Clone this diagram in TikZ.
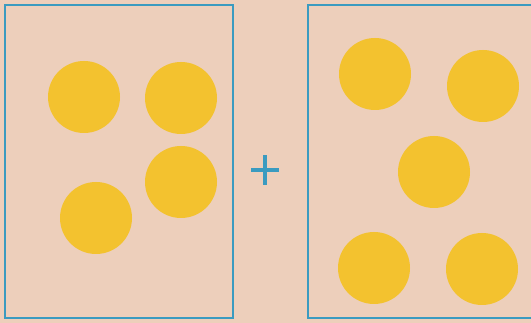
\documentclass[tikz,border=0pt]{standalone}
\usepackage{tikz}

\definecolor{paper}{HTML}{EDCFBB}
\definecolor{frameblue}{HTML}{3A9BC0}
\definecolor{dotyellow}{HTML}{F3C22F}

\begin{document}
\begin{tikzpicture}[
    x=1pt,
    y=-1pt,
    dot/.style={circle, fill=dotyellow, minimum size=72pt, inner sep=0pt},
    frame/.style={draw=frameblue, line width=1.6pt}
]

    % Paper and visible area
    \clip (0,0) rectangle (531,323);
    \fill[paper] (0,0) rectangle (531,323);

    % Define the corners of the two boxes
    \coordinate (L1) at (5,5);
    \coordinate (L2) at (233,318);
    \coordinate (R1) at (308,5);
    \coordinate (R2) at (545,318);

    % Draw the boxes
    \draw[frame] (L1) rectangle (L2);
    \draw[frame] (R1) rectangle (R2);

    % Four dots on the left
    \node[dot] (a1) at (84,97) {};
    \node[dot] (a2) at (181,98) {};
    \node[dot] (a3) at (181,182) {};
    \node[dot] (a4) at (96,218) {};

    % Five dots on the right
    \node[dot] (b1) at (375,74) {};
    \node[dot] (b2) at (483,86) {};
    \node[dot] (b3) at (434,172) {};
    \node[dot] (b4) at (374,268) {};
    \node[dot] (b5) at (482,269) {};

    % The plus sign
    \coordinate (P) at (265,170);
    \draw[frameblue, line width=3.6pt] ([xshift=-14pt]P) -- ([xshift=14pt]P);
    \draw[frameblue, line width=3.6pt] ([yshift=-15pt]P) -- ([yshift=15pt]P);

\end{tikzpicture}
\end{document}
